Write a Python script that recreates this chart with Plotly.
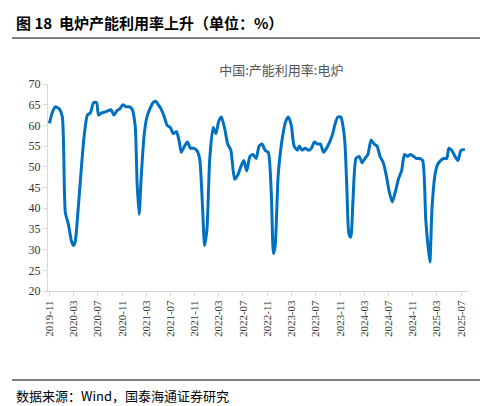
import plotly.graph_objects as go

dates = ["2019-11-01", "2019-11-15", "2019-12-01", "2019-12-20", "2020-01-05", "2020-01-20", "2020-02-05", "2020-02-20",
         "2020-03-01", "2020-03-10", "2020-03-25", "2020-04-10", "2020-04-25", "2020-05-10", "2020-05-25", "2020-06-10",
         "2020-06-25", "2020-07-05", "2020-07-20", "2020-08-05", "2020-08-20", "2020-09-05", "2020-09-20", "2020-10-05",
         "2020-10-20", "2020-11-05", "2020-11-20", "2020-12-05", "2020-12-20", "2021-01-05", "2021-01-15", "2021-01-25",
         "2021-02-05", "2021-02-20", "2021-03-05", "2021-03-20", "2021-04-05", "2021-04-20", "2021-05-01", "2021-05-15",
         "2021-06-01", "2021-06-15", "2021-07-01", "2021-07-15", "2021-08-01", "2021-08-15", "2021-08-25", "2021-09-10",
         "2021-09-25", "2021-10-10", "2021-10-25", "2021-11-10", "2021-11-25", "2021-12-10", "2021-12-20", "2022-01-01",
         "2022-01-15", "2022-02-01", "2022-02-15", "2022-03-01", "2022-03-15", "2022-04-01", "2022-04-15", "2022-05-01",
         "2022-05-20", "2022-06-05", "2022-06-20", "2022-07-05", "2022-07-20", "2022-08-05", "2022-08-20", "2022-09-05",
         "2022-09-20", "2022-10-05", "2022-10-20", "2022-11-05", "2022-11-20", "2022-12-01", "2022-12-10", "2022-12-25",
         "2023-01-15", "2023-02-01", "2023-02-15", "2023-03-01", "2023-03-15", "2023-04-01", "2023-04-10", "2023-04-25",
         "2023-05-10", "2023-05-25", "2023-06-10", "2023-06-25", "2023-07-10", "2023-07-25", "2023-08-10", "2023-08-25",
         "2023-09-10", "2023-09-25", "2023-10-05", "2023-10-20", "2023-11-05", "2023-11-15", "2023-11-25", "2023-12-05",
         "2023-12-15", "2023-12-25", "2024-01-05", "2024-01-20", "2024-02-05", "2024-02-20", "2024-03-05", "2024-03-20",
         "2024-04-05", "2024-04-20", "2024-05-05", "2024-05-20", "2024-06-05", "2024-06-20", "2024-07-05", "2024-07-20",
         "2024-08-05", "2024-08-20", "2024-09-05", "2024-09-20", "2024-10-05", "2024-10-20", "2024-11-05", "2024-11-20",
         "2024-12-05", "2024-12-20", "2025-01-05", "2025-01-25", "2025-02-05", "2025-02-20", "2025-03-05", "2025-03-20",
         "2025-04-05", "2025-04-20", "2025-05-01", "2025-05-15", "2025-06-01", "2025-06-15", "2025-07-01", "2025-07-20"]
rate = [60.5, 63, 64.5, 64, 62, 39, 36, 32,
        31, 32, 40, 50, 58, 62.5, 63, 65.5,
        65.5, 62.5, 63, 63.2, 63.5, 63.8, 62.5, 63.5,
        64, 65, 64.5, 64.5, 64, 60, 46, 38.5,
        48, 58, 62, 64, 65.5, 65.8, 65, 64,
        62, 60, 59.5, 58, 58.5, 56, 53.5, 55,
        56, 54.5, 54.5, 54, 52, 40, 31, 35,
        52, 59.5, 58, 61, 62, 59, 55.5, 54,
        47, 48, 50, 51.5, 49, 52.5, 53, 52,
        55, 55.5, 54, 53.5, 44, 29, 31, 48,
        57, 61, 62, 60, 55, 54, 55, 54,
        54.5, 54, 54.5, 56, 55.5, 55.5, 53.5, 54.5,
        56, 58, 60, 62, 62, 60, 56, 45,
        34, 33, 42, 52, 52.5, 51, 52, 53,
        56.5, 55.5, 55, 52.5, 51, 48, 44, 41.5,
        44, 47, 49, 53, 52.5, 53, 52.5, 52,
        52, 51.5, 37, 27, 40, 48, 50.5, 51.5,
        52, 52, 54.5, 54, 52.5, 51.5, 54, 54.2]

fig = go.Figure(go.Scatter(x=dates, y=rate, mode="lines",
                           line=dict(color="#0070C0", width=3, shape="spline", smoothing=0.6)))

serif = "Liberation Serif, Times New Roman, serif"
fig.update_layout(
    width=488, height=406, margin=dict(l=40, r=27, t=76, b=123),
    plot_bgcolor="white", paper_bgcolor="white", showlegend=False,
    font=dict(family=serif, size=12, color="#333333"),
    title=dict(text="中国:产能利用率:电炉", x=0.56, xanchor="center", y=0.845, yanchor="middle",
               font=dict(family="Noto Sans CJK SC", size=13, color="#555555")),
    xaxis=dict(range=["2019-10-25", "2025-08-10"], tick0="2019-11-01", dtick="M4", tickformat="%Y-%m",
               tickangle=-90, showgrid=False, showline=True, linecolor="#D9D9D9", ticks="outside",
               tickcolor="#D9D9D9", ticklen=4, tickfont=dict(size=11)),
    yaxis=dict(range=[20, 70], dtick=5, showgrid=False, showline=True, linecolor="#D9D9D9",
               ticks="outside", tickcolor="#D9D9D9", ticklen=4, tickfont=dict(size=12)),
    shapes=[
        dict(type="line", xref="paper", yref="paper", x0=-0.0855, x1=1.055, y0=1.222, y1=1.222,
             line=dict(color="black", width=1)),
        dict(type="line", xref="paper", yref="paper", x0=-0.0855, x1=1.055, y0=-0.430, y1=-0.430,
             line=dict(color="black", width=1)),
    ],
    annotations=[
        dict(text="<b>图 18  电炉产能利用率上升（单位：%）</b>", xref="paper", yref="paper",
             x=-0.081, y=1.295, xanchor="left", yanchor="middle", showarrow=False,
             font=dict(family="Noto Sans CJK SC", size=15, color="black")),
        dict(text="数据来源：Wind，国泰海通证券研究", xref="paper", yref="paper",
             x=-0.081, y=-0.505, xanchor="left", yanchor="middle", showarrow=False,
             font=dict(family="Noto Sans CJK SC", size=13, color="black")),
    ],
)

fig.write_html("out.html")
